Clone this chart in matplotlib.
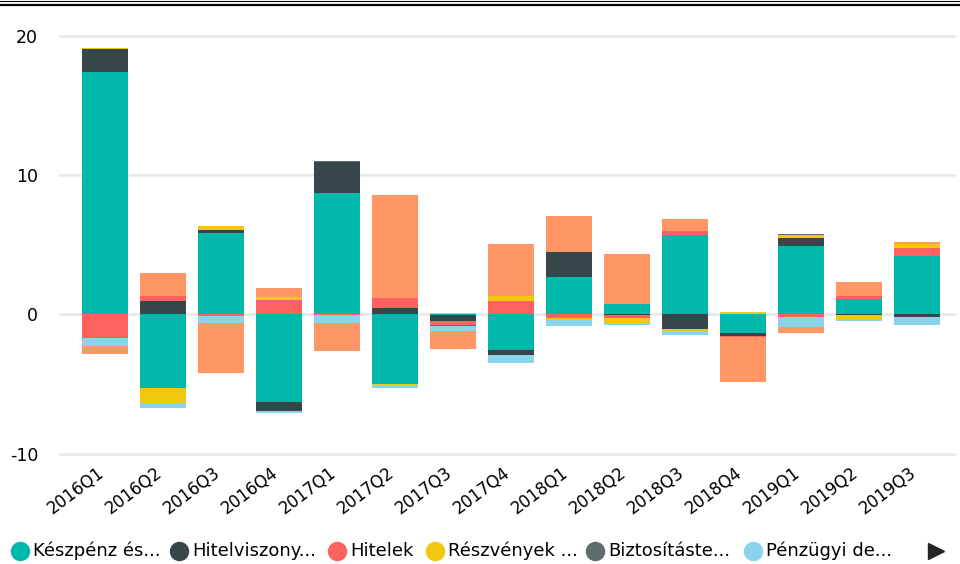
import numpy as np
import matplotlib
matplotlib.use('Agg')
import matplotlib.pyplot as plt
import matplotlib.transforms as mtransforms
from matplotlib.lines import Line2D

# quarters on the x axis
quarters = ['2016Q1', '2016Q2', '2016Q3', '2016Q4', '2017Q1', '2017Q2', '2017Q3', '2017Q4',
            '2018Q1', '2018Q2', '2018Q3', '2018Q4', '2019Q1', '2019Q2', '2019Q3']

# series values
keszpenz = [17.39, -5.29, 5.84, -6.30, 8.71, -5.00, -0.07, -2.56, 2.68, 0.74, 5.69, -1.34, 4.90, 1.10, 4.19]
hitelviszony = [1.66, 0.95, 0.21, -0.64, 2.22, 0.45, -0.40, -0.36, 1.79, -0.05, -1.05, -0.19, 0.57, -0.05, -0.19]
hitelek = [-1.70, 0.36, -0.10, 1.03, -0.08, 0.72, -0.33, 0.95, -0.26, -0.20, 0.29, -0.10, -0.19, 0.22, 0.57]
reszvenyek = [0.08, -1.10, 0.29, 0.21, 0.0, -0.10, 0.08, 0.36, -0.12, -0.36, -0.14, 0.17, 0.22, -0.29, 0.29]
biztositas = [0.0, 0.0, 0.0, 0.0, 0.07, 0.0, -0.07, 0.0, 0.0, 0.0, 0.0, 0.0, 0.07, 0.0, 0.0]
penzugyi = [-0.55, -0.34, -0.55, -0.12, -0.54, -0.19, -0.36, -0.58, -0.45, -0.19, -0.29, 0.0, -0.72, -0.14, -0.57]
egyeb = [-0.58, 1.65, -3.56, 0.65, -2.01, 7.39, -1.25, 3.74, 2.59, 3.59, 0.86, -3.23, -0.43, 1.00, 0.14]

series = [keszpenz, hitelviszony, hitelek, reszvenyek, biztositas, penzugyi, egyeb]
legend_labels = ['Készpénz és...', 'Hitelviszony...', 'Hitelek', 'Részvények ...',
                 'Biztosításte...', 'Pénzügyi de...']
colors = ['#01B8AA', '#374649', '#FD625E', '#F2C80F', '#5F6B6D', '#8AD4EB', '#FE9666']

fig = plt.figure(figsize=(9.6, 5.64), dpi=100)
ax = fig.add_axes([59 / 960, 0.1833, 897 / 960, 0.7658])

x = np.arange(len(quarters))
pos_bottom = np.zeros(len(quarters))
neg_bottom = np.zeros(len(quarters))
for vals, col in zip(series, colors):
    v = np.array(vals)
    bottom = np.where(v >= 0, pos_bottom, neg_bottom)
    ax.bar(x, v, width=0.793, bottom=bottom, color=col, zorder=3, linewidth=0)
    pos_bottom += np.where(v >= 0, v, 0)
    neg_bottom += np.where(v < 0, v, 0)

ax.set_xlim(-0.793, 14.68)
ax.set_ylim(-10.5, 20.5)
ax.set_yticks([-10, 0, 10, 20])
ax.set_yticklabels(['-10', '0', '10', '20'], fontsize=12.5)
ax.grid(axis='y', color='#E8E8E8', linewidth=1.8, zorder=0)
ax.tick_params(axis='y', length=0, pad=15)
ax.tick_params(axis='x', length=0, pad=2)
ax.set_xticks(x)
ax.set_xticklabels(quarters, rotation=37, ha='right', rotation_mode='anchor', fontsize=12)
shift = mtransforms.ScaledTranslation(-8 / 100, 0, fig.dpi_scale_trans)
for lbl in ax.get_xticklabels():
    lbl.set_transform(lbl.get_transform() + shift)
for s in ax.spines.values():
    s.set_visible(False)

# double line at the top
fig.add_artist(Line2D([0, 1], [1 - 1 / 564, 1 - 1 / 564], color='black', lw=0.8, transform=fig.transFigure))
fig.add_artist(Line2D([0, 1], [1 - 4.7 / 564, 1 - 4.7 / 564], color='black', lw=1.6, transform=fig.transFigure))

# legend row
leg_y = 1 - 551 / 564
marker_x = [20, 179, 337, 435, 595, 753]
for mx, lab, col in zip(marker_x, legend_labels, colors):
    fig.add_artist(Line2D([mx / 960], [leg_y], marker='o', markersize=13, color=col,
                          linestyle='none', transform=fig.transFigure))
    fig.text((mx + 13) / 960, leg_y, lab, fontsize=13, va='center', ha='left')
fig.add_artist(Line2D([936 / 960], [leg_y], marker='>', markersize=11, color='#252423',
                      linestyle='none', transform=fig.transFigure))

fig.savefig('out.png', dpi=100)
